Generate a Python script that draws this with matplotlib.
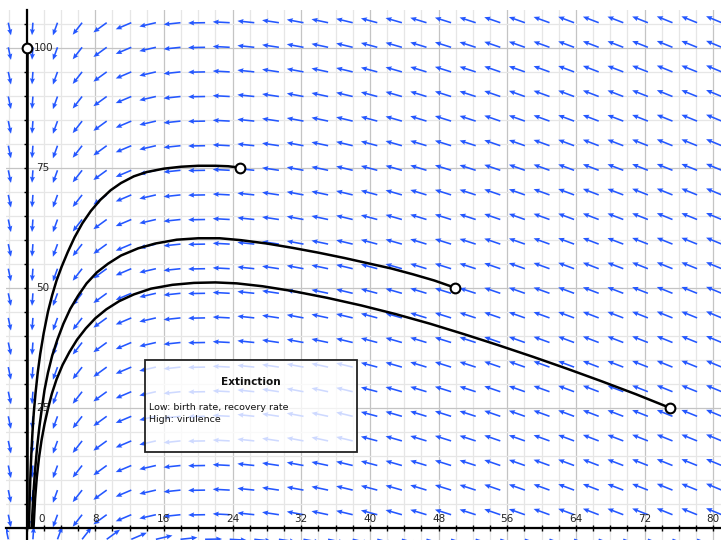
import numpy as np
import matplotlib
matplotlib.use("Agg")
import matplotlib.pyplot as plt
from matplotlib.patches import Rectangle

# ---------------- data ----------------
x_tick_values = [0, 8, 16, 24, 32, 40, 48, 56, 64, 72, 80]
y_tick_values = [25, 50, 75, 100]

# screen direction (degrees, CCW from +x) of the field arrows per column (upper half plane)
column_angles = [282, 266, 250, 232, 216, 203, 193, 186, 181, 177,
                 174, 171.5, 169.5, 168, 166.5, 165, 164, 163, 162.5, 162,
                 161, 160.5, 160, 159.5, 159, 159, 158.5, 158, 158, 157.5]

traj_axis_x = [0, 0]
traj_axis_y = [100, 0]

traj_top_x = [24.9, 23.5, 22.0, 20.0, 18.0, 16.0, 14.0, 12.5, 11.0, 9.8, 8.6, 7.5, 6.5,
              5.6, 4.8, 4.1, 3.5, 3.0, 2.5, 2.0, 1.6, 1.3, 1.05, 0.85, 0.7, 0.58,
              0.47, 0.37, 0.28]
traj_top_y = [75.0, 75.3, 75.4, 75.4, 75.2, 74.8, 74.1, 73.2, 71.8, 70.3, 68.3, 66.0, 63.4,
              60.5, 57.4, 54.4, 51.5, 48.5, 45.0, 40.5, 36.2, 32.2, 28.0, 24.0, 20.0, 16.0,
              11.5, 6.0, 0.0]

traj_mid_x = [49.9, 47.5, 45.0, 42.5, 40.0, 37.0, 34.0, 31.0, 28.0, 25.0, 22.5, 20.0, 17.5,
              15.0, 13.0, 11.0, 9.5, 8.2, 7.0, 6.0, 5.1, 4.3, 3.6, 3.0, 2.5, 2.1, 1.8,
              1.5, 1.25, 1.0, 0.8, 0.6]
traj_mid_y = [50.0, 51.5, 52.8, 54.0, 55.0, 56.2, 57.3, 58.3, 59.2, 59.9, 60.3, 60.3, 60.0,
              59.2, 58.2, 56.7, 55.0, 53.2, 50.9, 48.3, 45.6, 42.5, 39.2, 35.9, 32.3, 28.7,
              25.0, 21.0, 17.0, 12.0, 7.0, 0.0]

traj_low_x = [74.9, 71.0, 67.0, 63.0, 59.0, 55.0, 51.0, 47.0, 43.0, 39.0, 35.0, 31.0, 27.5,
              24.5, 22.0, 19.5, 17.0, 14.5, 12.5, 10.8, 9.3, 8.0, 6.9, 5.9, 5.0, 4.2,
              3.5, 2.95, 2.5, 2.1, 1.75, 1.45, 1.2, 1.0, 0.82]
traj_low_y = [25.0, 27.8, 30.5, 33.1, 35.6, 38.0, 40.3, 42.5, 44.5, 46.3, 47.9, 49.3, 50.3,
              50.9, 51.1, 51.0, 50.6, 49.8, 48.6, 47.2, 45.5, 43.6, 41.5, 39.2, 36.6, 33.9,
              30.9, 27.9, 24.8, 21.6, 18.2, 14.5, 10.5, 6.0, 0.0]

start_x = [0, 24.9, 49.9, 74.9]
start_y = [100, 75, 50, 25]

box_title = "Extinction"
box_lines = ["Low: birth rate, recovery rate", "High: virulence"]

# ---------------- figure ----------------
W, H = 721, 540
fig = plt.figure(figsize=(W / 100, H / 100), dpi=100)
ax = fig.add_axes([6 / W, 0, (W - 6) / W, 530 / H])

x0px, sx = 26.5, 8.585      # pixel of x=0, pixels per unit
y0px, sy = 527.7, 4.8
xmin, xmax = (6 - x0px) / sx, (W - x0px) / sx
ymin, ymax = (y0px - H) / sy, (y0px - 10) / sy
ax.set_xlim(xmin, xmax)
ax.set_ylim(ymin, ymax)

# grid
for gx in np.arange(-2, 81, 2):
    major = (gx % 8 == 0)
    ax.axvline(gx, color="#c4c4c4" if major else "#e6e6e6", lw=0.9, zorder=0)
for gy in np.arange(0, 108, 5):
    major = (gy % 25 == 0)
    ax.axhline(gy, color="#c4c4c4" if major else "#e6e6e6", lw=0.9, zorder=0)

# vector field (tails on a square pixel lattice)
step = 24.6
col_x = (8.3 + step * np.arange(len(column_angles)) - x0px) / sx
row_y = (y0px - (22.7 + step * np.arange(22))) / sy
XX, YY = np.meshgrid(col_x, row_y)
ang = np.deg2rad(np.array(column_angles))[None, :] * np.ones_like(XX)
ang = np.where(YY < 0, ang + np.pi, ang)
L = 17.0 - 4.5 * np.sin(ang) ** 4
U = L * np.cos(ang)
V = L * np.sin(ang)
ax.quiver(XX, YY, U, V, angles="uv", scale_units="dots", scale=1, pivot="tail",
          units="dots", width=1.6, headwidth=3.2, headlength=3.8, headaxislength=3.4,
          color="#2457ff", zorder=2)

# axes through the origin
for s in ["top", "right"]:
    ax.spines[s].set_visible(False)
ax.spines["left"].set_position(("data", 0))
ax.spines["bottom"].set_position(("data", 0))
ax.spines["left"].set_linewidth(1.6)
ax.spines["bottom"].set_linewidth(1.6)
ax.spines["left"].set_zorder(3)
ax.spines["bottom"].set_zorder(3)
ax.set_xticks(np.arange(0, 81, 2))
ax.set_yticks(np.arange(0, 106, 5))
ax.tick_params(axis="x", direction="inout", length=4, width=1, labelbottom=False)
ax.tick_params(axis="y", direction="out", length=2.5, width=1, labelleft=False)

# trajectories
for tx, ty in [(traj_axis_x, traj_axis_y), (traj_top_x, traj_top_y),
               (traj_mid_x, traj_mid_y), (traj_low_x, traj_low_y)]:
    ax.plot(tx, ty, color="black", lw=1.8, solid_capstyle="round",
            solid_joinstyle="round", zorder=4)
ax.plot(start_x, start_y, "o", ms=7, mfc="white", mec="black", mew=1.5,
        zorder=5, clip_on=False)

# tick labels
font = "DejaVu Sans"
for v in x_tick_values:
    px = x0px + v * sx
    if v == 0:
        px = 41.7
    ax.text((px - x0px) / sx, 1.8, str(v), ha="center", va="center",
            fontsize=7.5, color="#222222", family=font, zorder=3)
for v in y_tick_values:
    lx = 33.5 if v == 100 else 36.5
    ax.text((lx - x0px) / sx, v, str(v), ha="left", va="center",
            fontsize=7.5, color="#222222", family=font, zorder=6)

# annotation box
bx0, bx1 = (145 - x0px) / sx, (357 - x0px) / sx
by0, by1 = (y0px - 452) / sy, (y0px - 360) / sy
ax.add_patch(Rectangle((bx0, by0), bx1 - bx0, by1 - by0, facecolor="white",
                       alpha=0.78, edgecolor="none", zorder=6))
ax.add_patch(Rectangle((bx0, by0), bx1 - bx0, by1 - by0, facecolor="none",
                       edgecolor="#222222", lw=1.3, zorder=7))
ax.text((bx0 + bx1) / 2, (y0px - 382) / sy, box_title, ha="center", va="center",
        fontsize=7.6, fontweight="bold", color="#111111", family=font, zorder=8)
for i, line in enumerate(box_lines):
    ax.text((149 - x0px) / sx, (y0px - (407.5 + 12 * i)) / sy, line, ha="left",
            va="center", fontsize=6.8, color="#111111", family=font, zorder=8)

fig.savefig("out.png", dpi=100)
